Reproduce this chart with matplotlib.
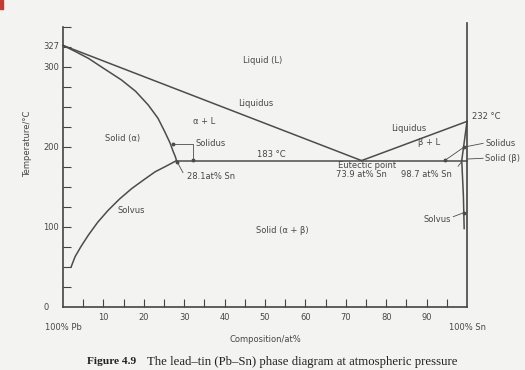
import matplotlib
matplotlib.use('Agg')
import matplotlib.pyplot as plt
from matplotlib.patches import Rectangle

# phase boundaries (composition at% Sn, temperature degC)
liquidus_a_x = [0, 73.9]
liquidus_a_t = [327, 183]
liquidus_b_x = [73.9, 100]
liquidus_b_t = [183, 232]
solidus_a_x = [0, 3.0, 6.3, 10.0, 14.5, 18.0, 21.1, 23.5, 25.2, 26.5, 27.3, 27.8, 28.1]
solidus_a_t = [327, 319.5, 310.8, 298.5, 283.7, 269.5, 252.5, 236, 219, 205, 194, 188, 183]
solvus_a_x = [28.1, 25.5, 22.8, 20.0, 17.0, 14.0, 11.2, 8.6, 6.3, 4.5, 3.0, 2.0]
solvus_a_t = [183, 176, 169, 159, 148, 135, 121, 106, 90, 76, 63, 50]
solidus_b_x = [100, 98.7]
solidus_b_t = [232, 183]
solvus_b_x = [98.7, 99.1, 99.3]
solvus_b_t = [183, 140, 98]
eutectic_x = [28.1, 100]
eutectic_t = [183, 183]

x_ticks = [10, 20, 30, 40, 50, 60, 70, 80, 90]
x_minor = [5, 15, 25, 35, 45, 55, 65, 75, 85, 95]
y_ticks = [0, 100, 200, 300, 327]
y_minor = [25, 50, 75, 100, 125, 150, 175, 200, 225, 250, 275, 300, 325, 350]

# region / point labels: (text, x, T, ha)
labels = [
    ("Liquid (L)", 49.3, 307.5, "center"),
    ("Liquidus", 47.6, 254.6, "center"),
    ("\u03b1 + L", 34.9, 231.6, "center"),
    ("Solid (\u03b1)", 14.85, 210, "center"),
    ("Solidus", 32.9, 204.6, "left"),
    ("183 \u00b0C", 51.6, 191, "center"),
    ("28.1at% Sn", 30.7, 163, "left"),
    ("Eutectic point", 75.2, 176.5, "center"),
    ("73.9 at% Sn", 73.9, 165.5, "center"),
    ("98.7 at% Sn", 90.0, 165.5, "center"),
    ("Liquidus", 85.5, 223, "center"),
    ("\u03b2 + L", 90.6, 205, "center"),
    ("232 \u00b0C", 101.2, 237.9, "left"),
    ("Solidus", 104.5, 204.6, "left"),
    ("Solid (\u03b2)", 104.5, 185.9, "left"),
    ("Solvus", 92.7, 108.75, "center"),
    ("Solid (\u03b1 + \u03b2)", 54.3, 96, "center"),
    ("Solvus", 17.0, 121, "center"),
    ("100% Pb", 0, -26, "center"),
    ("100% Sn", 100.2, -25, "center"),
]

# leader lines: x list, T list
leaders = [
    ([27.3, 32.3, 32.3], [204, 204, 183.5]),
    ([29.7, 28.3], [168, 181]),
    ([99.3, 94.6], [200, 183.5]),
    ([97.8, 98.5], [176, 180.5]),
    ([104.0, 99.6], [204.6, 200.2]),
    ([104.0, 100.2], [185.9, 185]),
    ([96.6, 99.2], [112.9, 117.9]),
]
leader_dots_x = [27.3, 32.3, 28.3, 99.3, 94.6, 99.2]
leader_dots_t = [204, 183.5, 181, 200, 183.5, 117.9]

ink = '#4c4c4c'
txt = '#474747'

fig = plt.figure(figsize=(5.25, 3.7), dpi=100, facecolor='#f3f3f1')
ax = fig.add_axes([63 / 525, 63 / 370, 404 / 525, 284 / 370])
ax.set_facecolor('none')
ax.set_xlim(0, 100)
ax.set_ylim(0, 355)

for xs, ts in [(liquidus_a_x, liquidus_a_t), (liquidus_b_x, liquidus_b_t),
               (solidus_a_x, solidus_a_t), (solvus_a_x, solvus_a_t),
               (solidus_b_x, solidus_b_t), (solvus_b_x, solvus_b_t),
               (eutectic_x, eutectic_t)]:
    ax.plot(xs, ts, color=ink, lw=1.1, clip_on=False, solid_joinstyle='round')

for xs, ts in leaders:
    ax.plot(xs, ts, color=ink, lw=0.6, clip_on=False)
ax.plot(leader_dots_x, leader_dots_t, 'o', ms=1.8, color=ink, clip_on=False)

for s, x, t, ha in labels:
    ax.text(x, t, s, ha=ha, va='center', fontsize=6, color=txt)

# axes
ax.spines['top'].set_visible(False)
for side in ['left', 'bottom', 'right']:
    ax.spines[side].set_color('#444444')
    ax.spines[side].set_linewidth(1.2)
ax.spines['left'].set_bounds(0, 350)

ax.set_xticks(x_ticks)
ax.set_xticks(x_minor, minor=True)
ax.tick_params(axis='x', which='both', direction='in', length=6, width=0.8,
               color='#444444', labelsize=6, labelcolor=txt, pad=4)

ax.yaxis.remove_overlapping_locs = False
ax.set_yticks(y_ticks)
ax.set_yticks(y_minor, minor=True)
ax.tick_params(axis='y', which='major', length=0, labelsize=6, labelcolor=txt, pad=14.4)
ax.tick_params(axis='y', which='minor', direction='in', length=6, width=0.8, color='#444444')
for lab in ax.get_yticklabels():
    lab.set_ha('left')

fig.text(265 / 525, 1 - 340 / 370, 'Composition/at%', ha='center', va='center',
         fontsize=6, color=txt)
fig.text(28 / 525, 1 - 144 / 370, 'Temperature/\u00b0C', ha='center', va='center',
         rotation=90, fontsize=6, color=txt)

# caption
fig.text(87 / 525, 1 - 362 / 370, 'Figure 4.9', ha='left', va='center',
         fontsize=8.2, fontweight='bold', family='Liberation Serif', color='#222222')
fig.text(147 / 525, 1 - 362 / 370,
         'The lead\u2013tin (Pb\u2013Sn) phase diagram at atmospheric pressure',
         ha='left', va='center', fontsize=9.2, family='Liberation Serif', color='#222222')

# red scan mark in the corner
fig.patches.append(Rectangle((0, 1 - 9 / 370), 3 / 525, 9 / 370, color='#c43a2f',
                             transform=fig.transFigure, figure=fig))

fig.savefig('out.png', dpi=100, facecolor=fig.get_facecolor())
